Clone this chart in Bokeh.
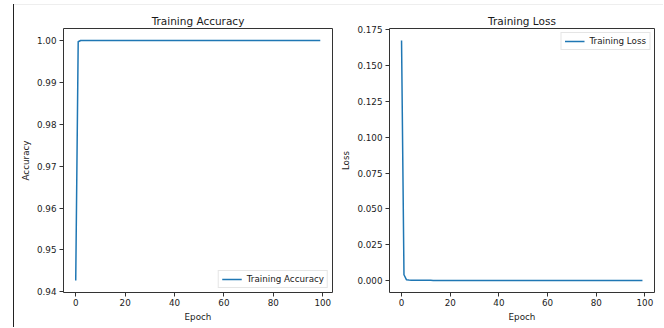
from bokeh.plotting import figure
from bokeh.layouts import row, column
from bokeh.models import FixedTicker, NumeralTickFormatter, Range1d, Div, Spacer
from bokeh.embed import file_html
from bokeh.resources import INLINE

epochs = list(range(100))
accuracy = [0.9427, 0.9997] + [1.0] * 98
loss = [0.1675, 0.0040, 0.0006, 0.0003, 0.0002, 0.00018, 0.00016, 0.00014, 0.00013, 0.00012,
        0.00011, 0.0001, 0.0001, 0.00009, 0.00009, 0.00008, 0.00008, 0.00008, 0.00007, 0.00007,
        0.00007, 0.00006, 0.00006, 0.00006, 0.00006, 0.00005, 0.00005, 0.00005, 0.00005, 0.00005,
        0.00004, 0.00004, 0.00004, 0.00004, 0.00004, 0.00004, 0.00004, 0.00003, 0.00003, 0.00003,
        0.00003, 0.00003, 0.00003, 0.00003, 0.00003, 0.00003, 0.00003, 0.00002, 0.00002, 0.00002,
        0.00002, 0.00002, 0.00002, 0.00002, 0.00002, 0.00002, 0.00002, 0.00002, 0.00002, 0.00002,
        0.00002, 0.00002, 0.00001, 0.00001, 0.00001, 0.00001, 0.00001, 0.00001, 0.00001, 0.00001,
        0.00001, 0.00001, 0.00001, 0.00001, 0.00001, 0.00001, 0.00001, 0.00001, 0.00001, 0.00001,
        0.00001, 0.00001, 0.00001, 0.00001, 0.00001, 0.00001, 0.00001, 0.00001, 0.00001, 0.00001,
        0.00001, 0.00001, 0.00001, 0.00001, 0.00001, 0.00001, 0.00001, 0.00001, 0.00001, 0.00001]
x_ticks = [0, 20, 40, 60, 80, 100]
acc_ticks = [0.94, 0.95, 0.96, 0.97, 0.98, 0.99, 1.00]
loss_ticks = [0.0, 0.025, 0.05, 0.075, 0.1, 0.125, 0.15, 0.175]

FONT = "DejaVu Sans"
TXT = "#1a1a1a"
BLUE = "#1f77b4"
FS = "8.75px"


def pad(vals):
    lo, hi = min(vals), max(vals)
    m = (hi - lo) * 0.05
    return lo - m, hi + m


def style(p, title, ylabel, yticks, yfmt):
    p.title.text = title
    p.title.text_font = FONT
    p.title.text_font_style = "normal"
    p.title.text_font_size = "10.5px"
    p.title.text_color = TXT
    p.title.align = "center"
    p.title.standoff = 4
    p.outline_line_color = "#333333"
    p.outline_line_width = 1
    p.grid.visible = False
    p.background_fill_color = "white"
    p.border_fill_color = "white"
    for ax in (p.xaxis[0], p.yaxis[0]):
        ax.axis_line_color = None
        ax.major_tick_line_color = "#333333"
        ax.major_tick_out = 4
        ax.major_tick_in = 0
        ax.minor_tick_line_color = None
        ax.major_label_text_font = FONT
        ax.major_label_text_font_size = FS
        ax.major_label_text_color = TXT
        ax.axis_label_text_font = FONT
        ax.axis_label_text_font_size = FS
        ax.axis_label_text_font_style = "normal"
        ax.axis_label_text_color = TXT
        ax.axis_label_standoff = 3
    p.xaxis[0].major_label_standoff = 2
    p.yaxis[0].major_label_standoff = 3
    p.xaxis[0].axis_label = "Epoch"
    p.yaxis[0].axis_label = ylabel
    p.xaxis[0].ticker = FixedTicker(ticks=x_ticks)
    p.yaxis[0].ticker = FixedTicker(ticks=yticks)
    p.yaxis[0].formatter = NumeralTickFormatter(format=yfmt)


xr = pad(epochs)
p1 = figure(width=324, height=319, output_backend="svg", toolbar_location=None,
            x_range=Range1d(*xr), y_range=Range1d(*pad(accuracy)),
            min_border_left=49, min_border_right=6, min_border_top=23, min_border_bottom=29)
p1.line(epochs, accuracy, line_color=BLUE, line_width=1.5, line_join="round",
        legend_label="Training Accuracy")
style(p1, "Training Accuracy", "Accuracy", acc_ticks, "0.00")

p2 = figure(width=318, height=319, output_backend="svg", toolbar_location=None,
            x_range=Range1d(*xr), y_range=Range1d(*pad(loss)),
            min_border_left=47, min_border_right=2, min_border_top=23, min_border_bottom=29)
p2.line(epochs, loss, line_color=BLUE, line_width=1.5, line_join="round",
        legend_label="Training Loss")
style(p2, "Training Loss", "Loss", loss_ticks, "0.000")

for p, loc in ((p1, "bottom_right"), (p2, "top_right")):
    lg = p.legend[0]
    lg.location = loc
    lg.margin = 4
    lg.padding = 3
    lg.spacing = 0
    lg.label_text_font = FONT
    lg.label_text_font_size = FS
    lg.label_text_color = TXT
    lg.label_height = 10
    lg.glyph_height = 10
    lg.glyph_width = 20
    lg.label_standoff = 5
    lg.border_line_color = "#cccccc"
    lg.border_line_width = 1
    lg.background_fill_alpha = 0.8

vline = column(Spacer(width=1, height=4, margin=0),
               Div(width=1, height=323, margin=0, styles={"background-color": "#222222"}))
right = column(Spacer(width=649, height=4, margin=0),
               Div(width=649, height=1, margin=0, styles={"background-color": "#eeeeee"}),
               row(p1, p2))
layout = row(Spacer(width=13, height=327, margin=0), vline, right)
open("out.html", "w").write(file_html(layout, INLINE))
